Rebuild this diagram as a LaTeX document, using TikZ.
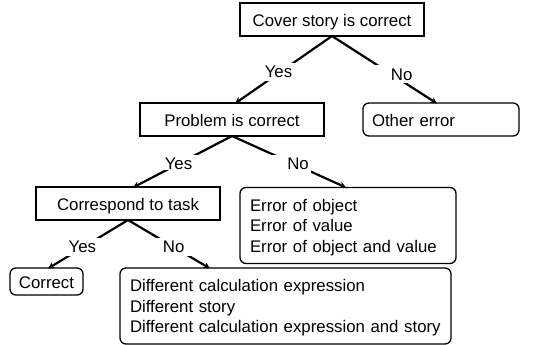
\documentclass[tikz,border=0pt]{standalone}
\usepackage{fontspec}
\setmainfont{Liberation Sans}
\usetikzlibrary{arrows.meta}
\begin{document}
\begin{tikzpicture}[x=1pt,y=-1pt,
  font=\fontsize{16.8}{20.5}\selectfont,
  one/.style={text height=14pt,text depth=0pt},
  three/.style={text height=14pt,text depth=43pt},
  sq/.style={draw,line width=1.3pt,inner sep=0pt,one},
  rd/.style={draw,line width=1.3pt,rounded corners=6pt,inner sep=0pt},
  conn/.style={line width=2.2pt,-{Stealth[length=6.5pt,width=6.5pt]}},
  gap/.style={fill=white,inner sep=0pt,minimum width=44pt,minimum height=18pt,yshift=-2pt}]
\useasboundingbox (0,0) rectangle (554,345);
\node[sq,minimum width=184pt,minimum height=33pt] (cover) at (332,19.5) {Cover story is correct};
\node[sq,minimum width=184pt,minimum height=33pt] (prob) at (232,119.5) {Problem is correct};
\node[rd,one,minimum width=156pt,minimum height=33pt,text width=138pt,align=left] (other) at (441,119.5) {Other error};
\node[sq,minimum width=184pt,minimum height=33pt] (corr) at (128,203.5) {Correspond to task};
\node[rd,three,minimum width=216pt,minimum height=76pt,text width=196pt,align=left] (errs) at (348,225.5) {Error of object\\Error of value\\Error of object and value};
\node[rd,minimum width=73pt,minimum height=27pt,text height=13pt,text depth=0pt] (ok) at (46.5,281.5) {Correct};
\node[rd,three,minimum width=331pt,minimum height=76pt,text width=311pt,align=left] (diff) at (285.5,306) {Different calculation expression\\Different story\\Different calculation expression and story};
\coordinate (a1) at (332,36);
\coordinate (a2) at (232,136);
\coordinate (a3) at (128,220);
\draw[conn] (a1) -- (235,103.5) node[gap,pos=0.5,label={[xshift=-5pt]center:Yes}] {};
\draw[conn] (a1) -- (437,103.5) node[gap,pos=0.54,label={[xshift=13pt]center:No}] {};
\draw[conn] (a2) -- (133,187.5) node[gap,minimum height=15pt,pos=0.48,label={[xshift=-6pt,yshift=-1.5pt]center:Yes}] {};
\draw[conn] (a2) -- (346,187.5) node[gap,pos=0.5,label={[xshift=9pt]center:No}] {};
\draw[conn] (a3) -- (48,268.5) node[gap,pos=0.52,label={[xshift=-4pt]center:Yes}] {};
\draw[conn] (a3) -- (210,268.5) node[gap,pos=0.52,label={[xshift=3pt]center:No}] {};
\end{tikzpicture}
\end{document}
